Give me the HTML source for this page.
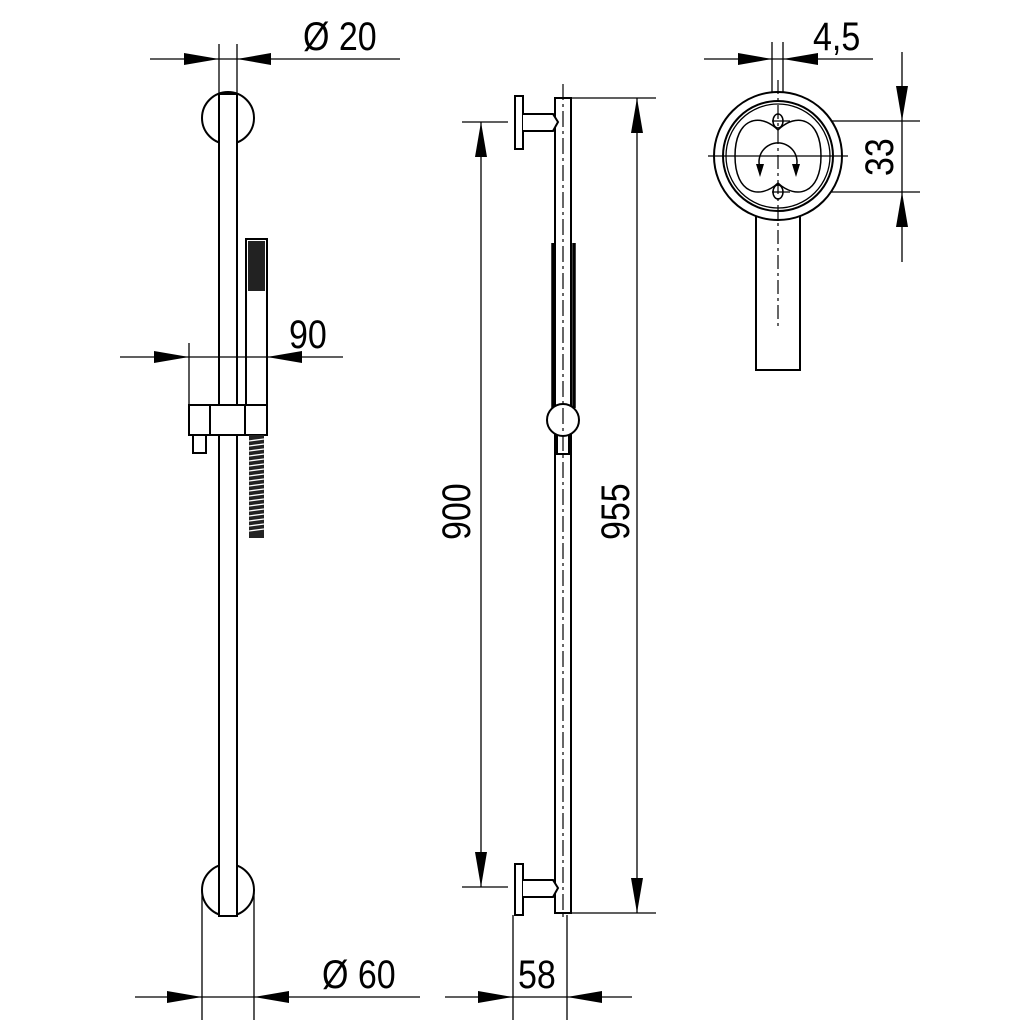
<!DOCTYPE html>
<html><head><meta charset="utf-8"><style>
html,body{margin:0;padding:0;background:#fff}
svg{display:block}
text{font-family:"Liberation Sans",sans-serif;fill:#000}
</style></head><body>
<svg width="1024" height="1024" viewBox="0 0 1024 1024" xmlns="http://www.w3.org/2000/svg">
<g fill="none" stroke="#000" stroke-width="2">
<!-- LEFT VIEW -->
<circle cx="228" cy="118" r="26" fill="#fff"/>
<circle cx="228" cy="890" r="26" fill="#fff"/>
<rect x="219" y="94" width="18" height="822" fill="#fff"/>
<!-- hand shower -->
<rect x="246" y="239" width="21" height="166" fill="#fff"/>
<rect x="248" y="241" width="17" height="50" fill="#222" stroke="none"/>
<rect x="189" y="405" width="78" height="30" fill="#fff"/>
<line x1="210" y1="405" x2="210" y2="435"/>
<line x1="245" y1="405" x2="245" y2="435"/>
<rect x="193" y="435" width="13" height="18"/>
<rect x="249" y="435" width="15" height="103" fill="#222" stroke="none"/>
</g>
<g stroke="#fff" stroke-width="1.3">
<line x1="249" y1="441" x2="264" y2="439"/><line x1="249" y1="446" x2="264" y2="444"/><line x1="249" y1="451" x2="264" y2="449"/><line x1="249" y1="456" x2="264" y2="454"/><line x1="249" y1="461" x2="264" y2="459"/><line x1="249" y1="466" x2="264" y2="464"/><line x1="249" y1="471" x2="264" y2="469"/><line x1="249" y1="476" x2="264" y2="474"/><line x1="249" y1="481" x2="264" y2="479"/><line x1="249" y1="486" x2="264" y2="484"/><line x1="249" y1="491" x2="264" y2="489"/><line x1="249" y1="496" x2="264" y2="494"/><line x1="249" y1="501" x2="264" y2="499"/><line x1="249" y1="506" x2="264" y2="504"/><line x1="249" y1="511" x2="264" y2="509"/><line x1="249" y1="516" x2="264" y2="514"/><line x1="249" y1="521" x2="264" y2="519"/><line x1="249" y1="526" x2="264" y2="524"/><line x1="249" y1="531" x2="264" y2="529"/>
</g>
<g fill="none" stroke="#000" stroke-width="1.3">
<!-- dims left -->
<line x1="150" y1="59" x2="400" y2="59"/>
<line x1="219" y1="44" x2="219" y2="94"/><line x1="237" y1="44" x2="237" y2="94"/>
<line x1="120" y1="357" x2="343" y2="357"/>
<line x1="189" y1="343" x2="189" y2="405"/>
<line x1="135" y1="997" x2="420" y2="997"/>
<line x1="202" y1="890" x2="202" y2="1020"/><line x1="254" y1="890" x2="254" y2="1020"/>
<line x1="445" y1="997" x2="632" y2="997"/>
<line x1="513" y1="915" x2="513" y2="1020"/><line x1="567" y1="915" x2="567" y2="1020"/>
<!-- middle dims -->
<line x1="481" y1="122" x2="481" y2="887"/>
<line x1="462" y1="122" x2="508" y2="122"/><line x1="462" y1="887" x2="508" y2="887"/>
<line x1="637" y1="98" x2="637" y2="913"/>
<line x1="570" y1="98" x2="656" y2="98"/><line x1="570" y1="913" x2="656" y2="913"/>
<!-- right dims -->
<line x1="704" y1="59" x2="873" y2="59"/>
<line x1="772" y1="42" x2="772" y2="118"/><line x1="783" y1="42" x2="783" y2="118"/>
<line x1="902" y1="52" x2="902" y2="262"/>
<line x1="780" y1="121" x2="920" y2="121"/><line x1="780" y1="192" x2="920" y2="192"/>
</g>
<g fill="#000" stroke="none">
<polygon points="184,53 219,59 184,65"/><polygon points="271,53 237,59 271,65"/>
<polygon points="154,351 189,357 154,363"/><polygon points="302,351 267,357 302,363"/>
<polygon points="167,991 202,997 167,1003"/><polygon points="289,991 254,997 289,1003"/>
<polygon points="478,991 513,997 478,1003"/><polygon points="602,991 567,997 602,1003"/>
<polygon points="475,157 481,122 487,157"/><polygon points="475,852 481,887 487,852"/>
<polygon points="631,133 637,98 643,133"/><polygon points="631,878 637,913 643,878"/>
<polygon points="738,53 772,59 738,65"/><polygon points="818,53 783,59 818,65"/>
<polygon points="896,86 902,121 908,86"/><polygon points="896,227 902,192 908,227"/>
</g>
<!-- MIDDLE VIEW -->
<g fill="none" stroke="#000" stroke-width="2">
<rect x="555" y="98" width="16" height="815" fill="#fff"/>
<rect x="515" y="96" width="8" height="53" fill="#fff"/>
<path d="M523,114 L553,114 L558,122 L553,131 L523,131" fill="#fff"/>
<rect x="515" y="864" width="8" height="51" fill="#fff"/>
<path d="M523,880 L553,880 L558,888 L553,897 L523,897" fill="#fff"/>
<line x1="553" y1="243" x2="553" y2="408" stroke-width="3.5"/>
<line x1="574" y1="243" x2="574" y2="408" stroke-width="3.5"/>
<rect x="557" y="434" width="12" height="20" fill="#fff"/>
<circle cx="563" cy="420" r="16" fill="#fff"/>
</g>
<line x1="563" y1="84" x2="563" y2="920" stroke="#000" stroke-width="1.2" stroke-dasharray="16,4,3,4"/>
<!-- RIGHT VIEW -->
<g fill="none" stroke="#000" stroke-width="2">
<rect x="756" y="200" width="44" height="170" fill="#fff"/>
<circle cx="778" cy="156" r="64" fill="#fff"/>
<circle cx="778" cy="156" r="55"/>
<circle cx="778" cy="156" r="52" stroke-width="1.3"/>
<path d="M778,130 C760,112 735,118 735,156 C735,194 760,200 778,183 C796,200 821,194 821,156 C821,118 796,112 778,130 Z" stroke-width="1.5"/>
<ellipse cx="778" cy="121" rx="5" ry="7" stroke-width="1.5"/>
<ellipse cx="778" cy="192" rx="5" ry="7" stroke-width="1.5"/>
<path d="M760,168 A19,19 0 1 1 796,168" stroke-width="1.5"/>
</g>
<g fill="#000"><polygon points="756,164 764,164 760,177"/><polygon points="792,164 800,164 796,177"/></g>
<g stroke="#000" stroke-width="1.2">
<line x1="778" y1="80" x2="778" y2="330" stroke-dasharray="14,4,3,4"/>
<line x1="708" y1="156" x2="848" y2="156"/>
<line x1="772" y1="121" x2="790" y2="121"/><line x1="772" y1="192" x2="790" y2="192"/>
</g>
<!-- TEXT -->
<g font-size="40">
<text x="0" y="0" transform="translate(303,50) scale(0.85,1)">Ø 20</text>
<text x="0" y="0" transform="translate(289,348) scale(0.85,1)">90</text>
<text x="0" y="0" transform="translate(322,988) scale(0.85,1)">Ø 60</text>
<text x="0" y="0" transform="translate(518,988) scale(0.85,1)">58</text>
<text x="0" y="0" transform="translate(813,50) scale(0.85,1)">4,5</text>
<text x="0" y="0" transform="translate(470,540) rotate(-90) scale(0.85,1)">900</text>
<text x="0" y="0" transform="translate(629,540) rotate(-90) scale(0.85,1)">955</text>
<text x="0" y="0" transform="translate(893,176) rotate(-90) scale(0.85,1)">33</text>
</g>
</svg>
</body></html>
